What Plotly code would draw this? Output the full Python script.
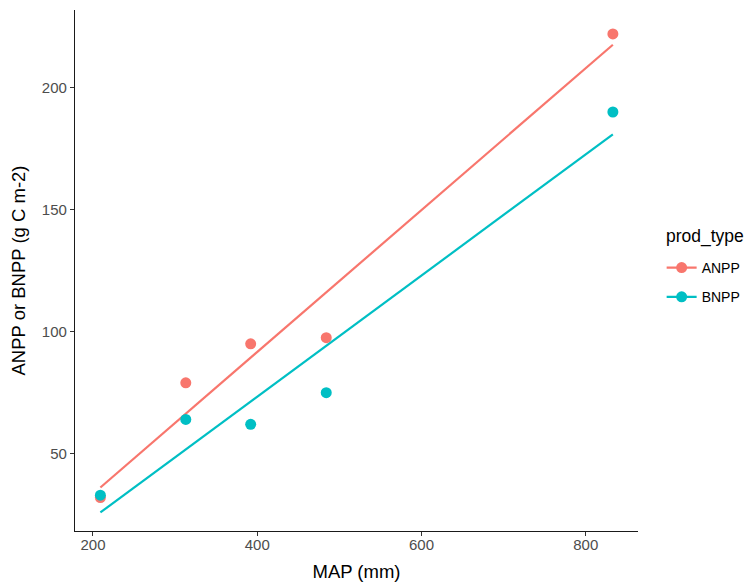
import numpy as np
import plotly.graph_objects as go

# Data
map_mm = [209, 313, 392, 484, 833]
anpp = [32.0, 79.0, 95.0, 97.5, 222.0]
bnpp = [33.0, 64.0, 62.0, 75.0, 190.0]
x_ticks = [200, 400, 600, 800]
y_ticks = [50, 100, 150, 200]

series = [("ANPP", anpp, "#F8766D"), ("BNPP", bnpp, "#00BFC4")]

FONT = "Liberation Sans"
fig = go.Figure()
xs = np.array(map_mm, dtype=float)
for name, vals, col in series:
    ys = np.array(vals, dtype=float)
    slope, icpt = np.polyfit(xs, ys, 1)
    xl = np.linspace(xs.min(), xs.max(), 80)
    fig.add_trace(go.Scatter(x=xl, y=slope * xl + icpt, mode="lines",
                             line=dict(color=col, width=2.2), showlegend=False,
                             hoverinfo="skip"))
for name, vals, col in series:
    fig.add_trace(go.Scatter(x=map_mm, y=vals, mode="markers",
                             marker=dict(color=col, size=11), showlegend=False, name=name))
    fig.add_trace(go.Scatter(x=[None], y=[None], mode="lines+markers", name=name,
                             legendgroup=name,
                             marker=dict(color=col, size=11),
                             line=dict(color=col, width=2.2)))

axis_common = dict(showgrid=False, zeroline=False, showline=True, linecolor="#1a1a1a",
                   linewidth=1.2, ticks="outside", ticklen=4, tickcolor="#333333",
                   tickwidth=1.1, automargin=False,
                   tickfont=dict(family=FONT, size=15, color="#4D4D4D"),
                   title_font=dict(family=FONT, size=18.5, color="#000000"))

fig.update_layout(
    width=745, height=576,
    margin=dict(l=66.5, r=114.7, t=2, b=53),
    paper_bgcolor="white", plot_bgcolor="white",
    xaxis=dict(range=[178.1, 863.6], tickvals=x_ticks, ticklabelstandoff=-4,
               title=dict(text="MAP (mm)", standoff=12), **axis_common),
    yaxis=dict(range=[18.3, 231.8], tickvals=y_ticks,
               title=dict(text="ANPP or BNPP (g C m-2)", standoff=12), **axis_common),
    legend=dict(x=1.042, xanchor="left", y=0.477, yanchor="middle",
                font=dict(family=FONT, size=14, color="#000000"),
                tracegroupgap=8, itemwidth=30),
    annotations=[dict(text="prod_type", xref="paper", yref="paper", x=1.0473, y=0.5643,
                      xanchor="left", yanchor="middle", showarrow=False, borderpad=0,
                      font=dict(family=FONT, size=17.5, color="#000000"))],
)

fig.write_html("out.html")
